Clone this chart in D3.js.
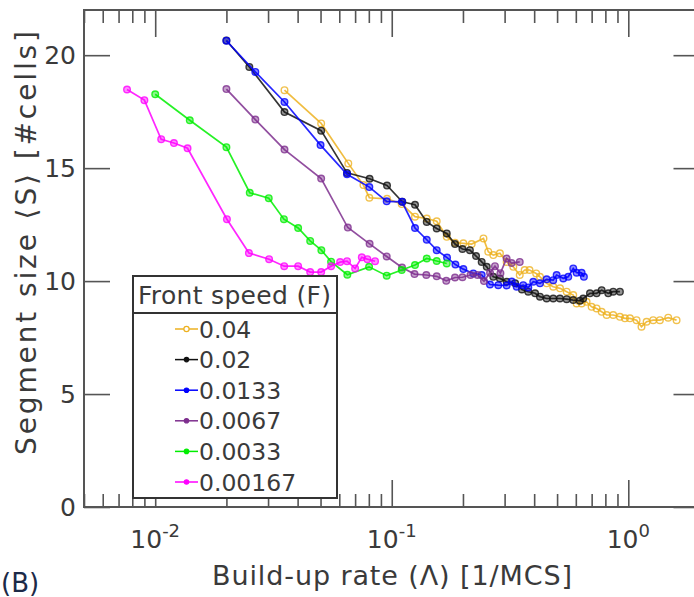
<!DOCTYPE html>
<html>
<head>
<meta charset="utf-8">
<script src="https://cdn.jsdelivr.net/npm/d3@7"></script>
<style>
  body { margin: 0; background: #fff; }
  svg text { font-family: "DejaVu Sans", sans-serif; fill: #3a3a3a; }
</style>
</head>
<body>
<svg id="chart" width="694" height="597"></svg>
<script>
// series labels (front speed F) and colours
var speeds = ["0.04", "0.02", "0.0133", "0.0067", "0.0033", "0.00167"];
var colors = ["#EDB120", "#111111", "#0000ff", "#7E2F8E", "#00ee00", "#ff00ff"];

// build-up rate (x) and segment size (y) for each series
var x004 = [0.0352, 0.0503, 0.0655, 0.0759, 0.0804, 0.0955, 0.1102, 0.1254, 0.1406, 0.1549, 0.1708, 0.1851, 0.2008, 0.2177, 0.2442, 0.2559, 0.2687, 0.2866, 0.3060, 0.3265, 0.3476, 0.3646, 0.3823, 0.4079, 0.4232, 0.4517, 0.4816, 0.5145, 0.5489, 0.5852, 0.6046, 0.6348, 0.6663, 0.6997, 0.7347, 0.7717, 0.8103, 0.8635, 0.9216, 0.9676, 1.016, 1.084, 1.137, 1.195, 1.274, 1.360, 1.475, 1.600];
var y004 = [18.45, 16.98, 15.21, 14.25, 13.69, 13.64, 13.41, 12.85, 12.77, 12.65, 11.96, 11.70, 11.67, 11.64, 11.89, 11.30, 11.15, 11.23, 10.85, 10.63, 10.27, 10.49, 10.49, 10.34, 10.19, 9.90, 9.75, 9.68, 9.53, 9.38, 9.01, 9.01, 9.08, 8.86, 8.79, 8.64, 8.50, 8.50, 8.42, 8.35, 8.35, 8.27, 7.98, 8.20, 8.27, 8.27, 8.38, 8.27];

var x002 = [0.0200, 0.0250, 0.0352, 0.0503, 0.0647, 0.0806, 0.0955, 0.1108, 0.1254, 0.1406, 0.1549, 0.1708, 0.1851, 0.1990, 0.2140, 0.2272, 0.2400, 0.2521, 0.2687, 0.2866, 0.3060, 0.3324, 0.3550, 0.3777, 0.4036, 0.4232, 0.4517, 0.4816, 0.5140, 0.5489, 0.5852, 0.6243, 0.6448, 0.6886, 0.7347, 0.7717, 0.8226, 0.8635, 0.9216];
var y002 = [20.65, 19.48, 17.48, 16.66, 14.79, 14.53, 14.23, 13.51, 13.38, 12.62, 12.33, 12.11, 11.64, 11.42, 11.37, 11.11, 10.85, 10.63, 10.19, 10.12, 9.97, 9.90, 9.63, 9.53, 9.46, 9.31, 9.23, 9.23, 9.23, 9.20, 9.16, 9.13, 9.23, 9.46, 9.46, 9.60, 9.46, 9.53, 9.53];

var x0133 = [0.0200, 0.0265, 0.0352, 0.0500, 0.0647, 0.0804, 0.0952, 0.1105, 0.1254, 0.1406, 0.1549, 0.1713, 0.1858, 0.2008, 0.2212, 0.2400, 0.2602, 0.2820, 0.3060, 0.3214, 0.3374, 0.3597, 0.3777, 0.3965, 0.4232, 0.4517, 0.4816, 0.4978, 0.5309, 0.5575, 0.5852, 0.6046, 0.6348, 0.6491];
var y0133 = [20.64, 19.26, 17.93, 16.02, 14.73, 14.16, 13.53, 13.51, 12.35, 11.83, 11.37, 11.04, 10.73, 10.53, 10.34, 10.27, 9.85, 9.82, 9.81, 9.98, 9.75, 9.82, 9.72, 9.97, 9.90, 10.08, 10.04, 10.27, 10.12, 10.19, 10.56, 10.37, 10.37, 10.19];

var x0067 = [0.0200, 0.0265, 0.0352, 0.0503, 0.0652, 0.0806, 0.0952, 0.1105, 0.1248, 0.1400, 0.1549, 0.1700, 0.1851, 0.1990, 0.2152, 0.2305, 0.2454, 0.2603, 0.2731, 0.2880, 0.3059, 0.3209, 0.3476];
var y0067 = [18.50, 17.15, 15.82, 14.54, 12.37, 11.65, 11.09, 10.60, 10.31, 10.27, 10.21, 10.01, 10.16, 10.17, 10.27, 10.27, 10.00, 10.37, 10.66, 10.35, 11.00, 10.80, 10.85];

var x0033 = [0.0100, 0.0140, 0.0200, 0.0251, 0.0302, 0.0350, 0.0402, 0.0452, 0.0504, 0.0554, 0.0649, 0.0802, 0.0952, 0.1102, 0.1254, 0.1406, 0.1549, 0.1708];
var y0033 = [18.27, 17.12, 15.93, 13.91, 13.67, 12.74, 12.35, 11.78, 11.37, 10.86, 10.28, 10.63, 10.24, 10.49, 10.71, 11.00, 10.89, 10.78];

var x00167 = [0.0076, 0.0090, 0.0106, 0.0120, 0.0137, 0.0201, 0.0249, 0.0303, 0.0351, 0.0402, 0.0452, 0.0503, 0.0554, 0.0605, 0.0647, 0.0700, 0.0747, 0.0789, 0.0850];
var y00167 = [18.48, 18.01, 16.28, 16.11, 15.88, 12.74, 11.24, 10.97, 10.66, 10.66, 10.40, 10.40, 10.66, 10.84, 10.88, 10.56, 11.05, 10.97, 10.88];

var xSeries = [x004, x002, x0133, x0067, x0033, x00167];
var ySeries = [y004, y002, y0133, y0067, y0033, y00167];

// axis ticks
var yTicks = [0, 5, 10, 15, 20];
var xMajor = [0.01, 0.1, 1];
var xExp = ["-2", "-1", "0"];

var svg = d3.select("#chart");
// plot box (right edge falls just outside the picture, as in the original)
var pL = 84, pR = 699.5, pT = 10, pB = 507;

var x = d3.scaleLog().domain([0.005, 2]).range([pL, pR]);
var y = d3.scaleLinear().domain([0, 22]).range([pB, pT]);

// minor ticks 2..9 within each decade
var xMinor = x.ticks().filter(function(t) { return xMajor.indexOf(t) < 0; });

var axisColor = "#555";

function styleAxis(g) {
  g.select(".domain").remove();
  g.selectAll(".tick line").attr("stroke", axisColor).attr("stroke-width", 1.6);
}

// bottom
svg.append("g").attr("transform", "translate(0," + pB + ")")
  .call(d3.axisBottom(x).tickValues(xMajor).tickSize(-27).tickFormat(""))
  .call(styleAxis);
svg.append("g").attr("transform", "translate(0," + pB + ")")
  .call(d3.axisBottom(x).tickValues(xMinor).tickSize(-13).tickFormat(""))
  .call(styleAxis);
// top
svg.append("g").attr("transform", "translate(0," + pT + ")")
  .call(d3.axisTop(x).tickValues(xMajor).tickSize(-27).tickFormat(""))
  .call(styleAxis);
svg.append("g").attr("transform", "translate(0," + pT + ")")
  .call(d3.axisTop(x).tickValues(xMinor).tickSize(-13).tickFormat(""))
  .call(styleAxis);
// left / right
svg.append("g").attr("transform", "translate(" + pL + ",0)")
  .call(d3.axisLeft(y).tickValues(yTicks).tickSize(-26).tickFormat(""))
  .call(styleAxis);
svg.append("g").attr("transform", "translate(" + pR + ",0)")
  .call(d3.axisRight(y).tickValues(yTicks).tickSize(-26).tickFormat(""))
  .call(styleAxis);

// frame
svg.append("rect")
  .attr("x", pL).attr("y", pT)
  .attr("width", pR - pL).attr("height", pB - pT)
  .attr("fill", "none").attr("stroke", axisColor).attr("stroke-width", 2);

// y tick labels
svg.selectAll(".ylab").data(yTicks).enter().append("text")
  .attr("x", pL - 8).attr("y", function(d) { return y(d) + 9; })
  .attr("text-anchor", "end").attr("font-size", 25)
  .text(function(d) { return d; });

// x tick labels 10^n
xMajor.forEach(function(v, i) {
  var t = svg.append("text")
    .attr("x", x(v)).attr("y", 548)
    .attr("text-anchor", "middle").attr("font-size", 25);
  t.append("tspan").text("10");
  t.append("tspan").attr("dy", -11).attr("font-size", 18).text(xExp[i]);
});

// axis titles
svg.append("text")
  .attr("x", 212).attr("y", 585)
  .attr("font-size", 27)
  .attr("textLength", 360).attr("lengthAdjust", "spacing")
  .text("Build-up rate (\u039B) [1/MCS]");
svg.append("text")
  .attr("transform", "translate(36,455) rotate(-90)")
  .attr("font-size", 28)
  .attr("textLength", 424).attr("lengthAdjust", "spacing")
  .text("Segment size \u27E8S\u27E9 [#cells]");

// panel letter (sits at the bottom-left corner)
svg.append("text").attr("x", 1).attr("y", 592).attr("font-size", 26)
  .style("fill", "#1c2a48").text("(B)");

// data lines and markers
var line = d3.line()
  .x(function(d) { return x(d[0]); })
  .y(function(d) { return y(d[1]); });

for (var s = 0; s < speeds.length; s++) {
  var pts = d3.zip(xSeries[s], ySeries[s]);
  var g = svg.append("g");
  g.append("path").datum(pts)
    .attr("d", line)
    .attr("fill", "none")
    .attr("stroke", colors[s])
    .attr("stroke-width", 1.7)
    .attr("stroke-opacity", 0.85);
  g.selectAll("circle").data(pts).enter().append("circle")
    .attr("cx", function(d) { return x(d[0]); })
    .attr("cy", function(d) { return y(d[1]); })
    .attr("r", 3.3)
    .attr("fill", s === 0 ? "none" : colors[s])
    .attr("fill-opacity", 0.45)
    .attr("stroke", colors[s])
    .attr("stroke-width", 1.4)
    .attr("stroke-opacity", 0.8);
}

// legend
var lg = svg.append("g");
var lx = 133, ly = 276, lw = 204, lh = 222, titleH = 37;
lg.append("rect").attr("x", lx).attr("y", ly).attr("width", lw).attr("height", lh)
  .attr("fill", "#fff").attr("stroke", "#333").attr("stroke-width", 2);
lg.append("line").attr("x1", lx).attr("x2", lx + lw)
  .attr("y1", ly + titleH).attr("y2", ly + titleH)
  .attr("stroke", "#333").attr("stroke-width", 2);
lg.append("text").attr("x", lx + 5).attr("y", ly + 28).attr("font-size", 25)
  .attr("textLength", 193).attr("lengthAdjust", "spacing")
  .text("Front speed (F)");

speeds.forEach(function(sp, i) {
  var cy = 329 + i * 30.6;
  lg.append("line").attr("x1", 175).attr("x2", 198).attr("y1", cy).attr("y2", cy)
    .attr("stroke", colors[i]).attr("stroke-width", 1.5);
  lg.append("circle").attr("cx", 186.5).attr("cy", cy).attr("r", i === 0 ? 2.6 : 2.2)
    .attr("fill", i === 0 ? "#fff" : colors[i])
    .attr("stroke", colors[i]).attr("stroke-width", 1.2);
  lg.append("text").attr("x", 199).attr("y", cy + 8.5).attr("font-size", 23.5)
    .text(sp);
});
</script>
</body>
</html>
